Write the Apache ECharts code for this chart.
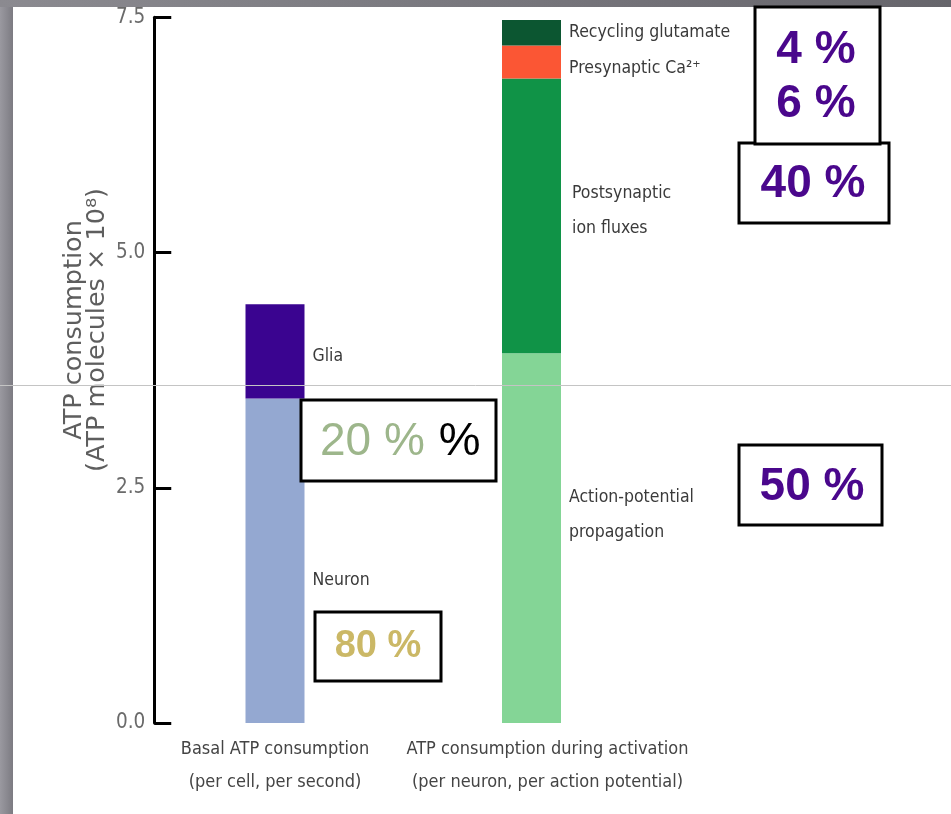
<!DOCTYPE html>
<html>
<head>
<meta charset="utf-8">
<script src="https://cdn.jsdelivr.net/npm/echarts@6/dist/echarts.min.js"></script>
<style>
  html, body { margin: 0; padding: 0; background: #ffffff; }
  #chart { width: 951px; height: 814px; }
</style>
</head>
<body>
<div id="chart"></div>
<script>
// Categories on the x axis
const categories = [
  'Basal ATP consumption\n(per cell, per second)',
  'ATP consumption during activation\n(per neuron, per action potential)'
];

// Stacked components (ATP molecules x 10^8)
const seriesNames = ['Neuron', 'Glia', 'Action-potential propagation', 'Postsynaptic ion fluxes', 'Presynaptic Ca²⁺', 'Recycling glutamate'];
const seriesLabels = ['Neuron', 'Glia', 'Action-potential\npropagation', 'Postsynaptic\nion fluxes', 'Presynaptic Ca²⁺', 'Recycling glutamate'];
const neuron          = [3.45, '-'];
const glia            = [1.00, '-'];
const actionPotential = ['-', 3.93];
const postsynaptic    = ['-', 2.92];
const presynaptic     = ['-', 0.35];
const recycling       = ['-', 0.27];
const seriesValues = [neuron, glia, actionPotential, postsynaptic, presynaptic, recycling];

// Y axis scale
const yMin = 0, yMax = 7.5, yStep = 2.5;

// Share annotations
const shareRecycling = '4 %';
const sharePresynaptic = '6 %';
const sharePostsynaptic = '40 %';
const shareAction = '50 %';
const shareNeuron = '80 %';
const shareGlia = '20 %';

// Styling
const colors = ['#94a8d1', '#3a0490', '#84d596', '#109347', '#fb5634', '#0c5631'];
const labelOffsets = [[0, 20], [0, 5], [0, -23], [3, -5], [0, 6], [0, 0]];
const narrow = "'Liberation Sans Narrow', 'DejaVu Sans Condensed', 'Roboto Condensed', 'Arial Narrow', 'Liberation Sans', sans-serif";
const purple = '#4a078c';

const chart = echarts.init(document.getElementById('chart'));

const series = seriesNames.map((name, i) => ({
  name: name,
  type: 'bar',
  stack: 'total',
  barWidth: 59,
  data: seriesValues[i],
  itemStyle: { color: colors[i] },
  label: {
    show: true,
    position: 'right',
    distance: 8,
    offset: labelOffsets[i],
    formatter: seriesLabels[i],
    color: '#3a3a3a',
    fontFamily: narrow,
    fontSize: 17.5,
    lineHeight: 35,
    align: 'left'
  }
}));

function box(x, y, w, h) {
  return {
    type: 'rect', z: 100,
    shape: { x: x, y: y, width: w, height: h },
    style: { fill: '#ffffff', stroke: '#000000', lineWidth: 3 }
  };
}
function label(text, x, y, size, color, bold) {
  return {
    type: 'text', z: 101,
    style: {
      text: text, x: x, y: y,
      fill: color,
      font: (bold ? 'bold ' : '') + size + "px 'Liberation Sans', Arial, sans-serif",
      align: 'center', verticalAlign: 'middle',
      textAlign: 'center', textVerticalAlign: 'middle'
    }
  };
}

const option = {
  animation: false,
  backgroundColor: '#ffffff',
  grid: { left: 146.75, right: 291.25, top: 17.3, bottom: 91 },
  xAxis: {
    type: 'category',
    data: categories,
    axisLine: { show: false },
    axisTick: { show: false },
    axisLabel: {
      margin: 10,
      color: '#444444',
      fontFamily: narrow,
      fontSize: 18,
      lineHeight: 33,
      interval: 0,
      // the second caption sits a little right of its bar
      formatter: (value, index) => value.split('\n')
        .map(line => '{' + (index === 1 ? 'r' : 'c') + '|' + line + '}')
        .join('\n'),
      rich: {
        c: { fontFamily: narrow, fontSize: 18, lineHeight: 33, color: '#444444' },
        r: { fontFamily: narrow, fontSize: 18, lineHeight: 33, color: '#444444', padding: [0, 0, 0, 32] }
      }
    }
  },
  yAxis: {
    type: 'value',
    min: yMin, max: yMax, interval: yStep,
    offset: -7.5,
    splitLine: { show: false },
    axisLine: { show: true, lineStyle: { color: '#000000', width: 3 } },
    axisTick: { show: true, inside: true, length: 17, lineStyle: { color: '#000000', width: 3 } },
    axisLabel: {
      margin: 9,
      color: '#6a6a6a',
      fontFamily: narrow,
      fontSize: 20.5,
      formatter: v => v.toFixed(1)
    }
  },
  series: series,
  graphic: [
    // slide frame strips
    {
      type: 'rect', z: 90,
      shape: { x: 0, y: 0, width: 13, height: 814 },
      style: { fill: new echarts.graphic.LinearGradient(0, 0, 1, 0, [
        { offset: 0, color: '#9a99a0' }, { offset: 1, color: '#7c7b82' }
      ]) }
    },
    {
      type: 'rect', z: 90,
      shape: { x: 0, y: 0, width: 951, height: 7 },
      style: { fill: new echarts.graphic.LinearGradient(0, 0, 1, 0, [
        { offset: 0, color: '#8b8a90' }, { offset: 1, color: '#66656b' }
      ]) }
    },
    {
      type: 'line', z: 110,
      shape: { x1: 0, y1: 385.5, x2: 951, y2: 385.5 },
      style: { stroke: '#c4c4c4', lineWidth: 1 }
    },
    // axis title
    {
      type: 'text', z: 50,
      x: 86, y: 330, rotation: Math.PI / 2,
      style: {
        text: 'ATP consumption\n(ATP molecules × 10⁸)',
        x: 0, y: 0,
        fill: '#5e5e5e',
        font: "25.5px 'DejaVu Sans', sans-serif",
        lineHeight: 23,
        align: 'center', verticalAlign: 'middle',
        textAlign: 'center', textVerticalAlign: 'middle'
      }
    },
    // share boxes
    box(739, 143, 150, 80),
    box(755, 7, 125, 137),
    label(shareRecycling, 816, 50, 46, purple, true),
    label(sharePresynaptic, 816, 104, 46, purple, true),
    label(sharePostsynaptic, 813, 184, 46, purple, true),
    box(739, 445, 143, 80),
    label(shareAction, 812, 487, 46, purple, true),
    box(315, 612, 126, 69),
    label(shareNeuron, 378, 647, 38, '#cbb866', true),
    box(301, 400, 195, 81),
    {
      type: 'text', z: 101,
      style: {
        text: '{g|' + shareGlia + '}{k|%}',
        x: 320, y: 442,
        align: 'left', verticalAlign: 'middle',
        textAlign: 'left', textVerticalAlign: 'middle',
        rich: {
          g: { fill: '#9db68b', color: '#9db68b', fontSize: 46, fontFamily: "'Liberation Sans', Arial, sans-serif" },
          k: { fill: '#000000', color: '#000000', fontSize: 47, padding: [0, 0, 0, 14], fontFamily: "'Liberation Sans', Arial, sans-serif" }
        }
      }
    }
  ]
};

chart.setOption(option);
</script>
</body>
</html>
